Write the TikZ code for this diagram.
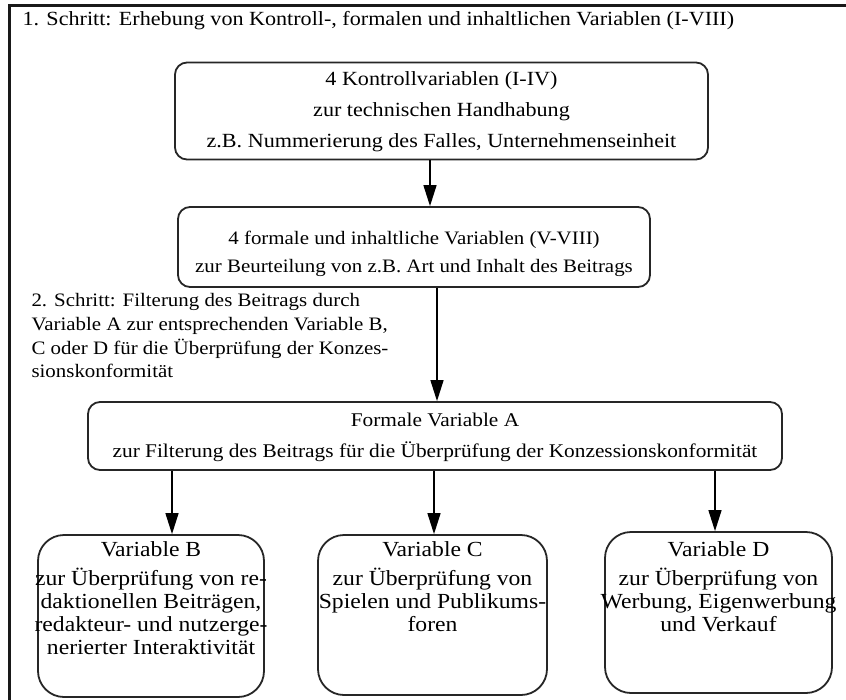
\documentclass[tikz,border=0pt]{standalone}
\usepackage{fontspec}
\setmainfont[FakeStretch=1.1]{Liberation Serif}
\usetikzlibrary{arrows.meta}
\tikzset{
  varbox/.style={draw=black!85, line width=1.8pt, rounded corners=12pt},
  bigbox/.style={varbox, rounded corners=26pt},
  flow/.style={line width=1.4pt, -{Triangle[length=21pt,width=13pt]}},
}
\begin{document}
\begin{tikzpicture}[x=1pt,y=-1pt]
  \useasboundingbox (0,0) rectangle (846,699);
  \clip (0,0) rectangle (846,699);
  % outer frame, cut at the right and the bottom
  \draw[line width=3pt, black!90] (9.5,5.5) rectangle (870,720);

  % step 1
  \node[anchor=west, font=\fontsize{20.1}{24}\selectfont] (schritt1) at (19,21)
    {1. Schritt: Erhebung von Kontroll-, formalen und inhaltlichen Variablen (I-VIII)};
  \node[varbox, minimum width=533pt, minimum height=97pt] (kontroll) at (441.5,111) {};
  \node[align=center, font=\fontsize{20.1}{31}\selectfont] (kontrolltext) at ([yshift=-1pt]kontroll.center)
    {4 Kontrollvariablen (I-IV)\\zur technischen Handhabung\\z.B. Nummerierung des Falles, Unternehmenseinheit};
  \node[varbox, minimum width=472pt, minimum height=80pt] (formal) at (414,247) {};
  \node[align=center, font=\fontsize{19}{28}\selectfont] (formaltext) at ([yshift=-7pt]formal.center)
    {4 formale und inhaltliche Variablen (V-VIII)\\zur Beurteilung von z.B. Art und Inhalt des Beitrags};
  \draw[flow] ([xshift=-11.5pt]kontroll.south) -- ([xshift=16pt]formal.north);

  % step 2
  \node[anchor=north west, align=left, font=\fontsize{19}{23.7}\selectfont] (schritt2) at (28,290)
    {2. Schritt: Filterung des Beitrags durch\\Variable A zur entsprechenden Variable B,\\C oder D für die Überprüfung der Konzes-\\sionskonformität};
  \node[varbox, minimum width=694pt, minimum height=68pt] (varA) at (435,436) {};
  \node[align=center, font=\fontsize{19.4}{31}\selectfont] (varAtext) at ([yshift=-1pt]varA.center)
    {Formale Variable A\\zur Filterung des Beitrags für die Überprüfung der Konzessionskonformität};
  \draw[flow] ([xshift=23pt]formal.south) -- ([xshift=2pt]varA.north);

  % variables B, C, D
  \node[bigbox, minimum width=226pt, minimum height=162pt] (varB) at (151,616) {};
  \node[bigbox, minimum width=229pt, minimum height=160pt] (varC) at (432.5,615) {};
  \node[bigbox, minimum width=227pt, minimum height=161pt] (varD) at (718.5,612.5) {};
  \node[anchor=north, align=center, font=\fontsize{21.5}{23}\selectfont] (textB) at ([yshift=-4pt]varB.north)
    {Variable B\\[6pt]zur Überprüfung von re-\\daktionellen Beiträgen,\\redakteur- und nutzerge-\\nerierter Interaktivität};
  \node[anchor=north, align=center, font=\fontsize{21.5}{23}\selectfont] (textC) at ([yshift=-4pt]varC.north)
    {Variable C\\[6pt]zur Überprüfung von\\Spielen und Publikums-\\foren};
  \node[anchor=north, align=center, font=\fontsize{21.5}{23}\selectfont] (textD) at ([yshift=-7pt]varD.north)
    {Variable D\\[6pt]zur Überprüfung von\\Werbung, Eigenwerbung\\und Verkauf};
  \draw[flow] ([xshift=-263pt]varA.south) -- ([xshift=21pt]varB.north);
  \draw[flow] ([xshift=-1pt]varA.south) -- ([xshift=1.5pt]varC.north);
  \draw[flow] ([xshift=280pt]varA.south) -- ([xshift=-3.5pt]varD.north);
\end{tikzpicture}
\end{document}
